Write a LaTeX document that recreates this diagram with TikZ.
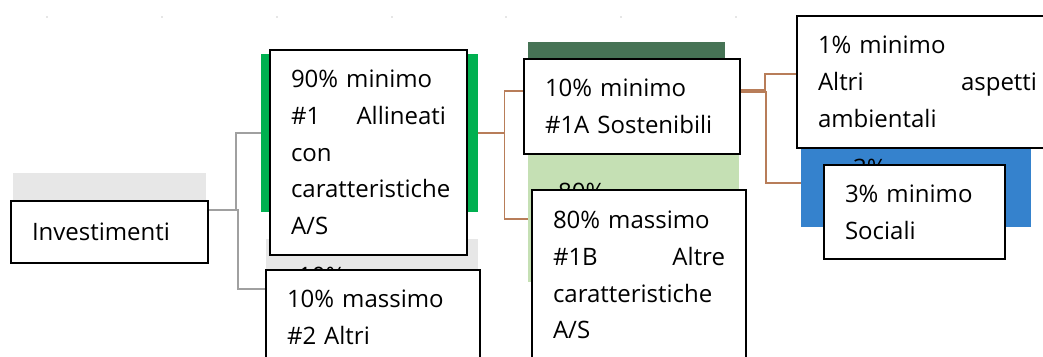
\documentclass[tikz,border=0pt]{standalone}
\usepackage{fontspec}
\setmainfont{Open Sans}
\usepackage{xcolor}
\usepackage{tikz}
\usetikzlibrary{calc}

\definecolor{barGray}{RGB}{231,231,231}
\definecolor{barGreen}{RGB}{0,176,80}
\definecolor{barDark}{RGB}{70,115,85}
\definecolor{barLight}{RGB}{197,224,180}
\definecolor{barBlue}{RGB}{53,130,205}
\definecolor{lineGray}{RGB}{160,160,160}
\definecolor{lineBrown}{RGB}{184,125,89}

\begin{document}
\begin{tikzpicture}[
    x=1pt, y=-1pt,
    box/.style={rectangle, draw=black, line width=2pt, fill=white, anchor=north west, inner xsep=21pt, inner ysep=0pt, align=left, font=\fontsize{24pt}{36.7pt}\selectfont},
    bar/.style={rectangle, inner sep=0pt, anchor=north west},
    frag/.style={anchor=base west, inner sep=0pt, font=\fontsize{24pt}{36.7pt}\selectfont},
    grayline/.style={draw=lineGray, line width=1.6pt},
    brownline/.style={draw=lineBrown, line width=1.6pt}
]
\useasboundingbox (0,0) rectangle (1043,356);
\clip (0,0) rectangle (1043,356);

% ticks on top
\foreach \tx in {47,162,277,392,506,621,736}
    \fill[gray!40] (\tx,17) circle (0.8);

% coloured bars behind the boxes
\node[bar, fill=barGray, minimum width=193pt, minimum height=50pt] (invbar) at (13,173) {};
\node[bar, fill=barGreen, minimum width=217pt, minimum height=158pt] (green) at (261,54) {};
\node[bar, fill=barGray, minimum width=212pt, minimum height=60pt] (altbar) at (266,239) {};
\node[bar, fill=barDark, minimum width=197pt, minimum height=60pt] (dark) at (528,42) {};
\node[bar, fill=barLight, minimum width=211pt, minimum height=127pt] (light) at (528,155) {};
\node[bar, fill=barBlue, minimum width=230pt, minimum height=80pt] (blue) at (801,147) {};

% labels of the bars, mostly hidden
\node[frag] (lbl10) at (298,284) {10\%};
\node[frag] (lbl80) at (558,200) {80\%};
\node[frag] (lbl3) at (853,176) {3\%};

% boxes
\node[box, text width=155pt, minimum height=62pt] (inv) at (10,200) {Investimenti};
\node[box, text width=155pt, minimum height=205pt] (allin) at (269,49) {90\% minimo\\ \#1\hfill Allineati\\ con\\ caratteristiche\\ A/S};
\node[box, text width=172pt, minimum height=95pt] (alt) at (265,269) {10\% massimo\\ \#2 Altri};
\node[box, text width=174pt, minimum height=95pt] (sost) at (523,58) {10\% minimo\\ \#1A Sostenibili};
\node[box, text width=172pt, minimum height=170pt] (altre) at (531,189) {80\% massimo\\ \#1B\hfill Altre\\ caratteristiche\\ A/S};
\node[box, text width=219pt, minimum height=132pt] (amb) at (796,15) {1\% minimo\\ Altri\hfill aspetti\\ ambientali};
\node[box, text width=139pt, minimum height=94pt] (soc) at (823,164) {3\% minimo\\ Sociali};

% connectors
\draw[grayline] ($(inv.north east)+(0,10)$) -- ++(27,0) |- (green.west);
\draw[grayline] ($(inv.north east)+(0,10)$) -- ++(29,0) |- ($(alt.north west)+(0,20)$);
\draw[brownline] (green.east) -- ++(26,0) |- ($(sost.north west)+(0,33)$);
\draw[brownline] (green.east) -- ++(26,0) |- (light.west);
\draw[brownline] ($(sost.north east)+(0,32)$) -- ++(24,0) |- ($(amb.north west)+(0,59)$);
\draw[brownline] ($(sost.north east)+(0,34)$) -- ++(25,0) |- ($(blue.north west)+(0,36)$);

\end{tikzpicture}
\end{document}
